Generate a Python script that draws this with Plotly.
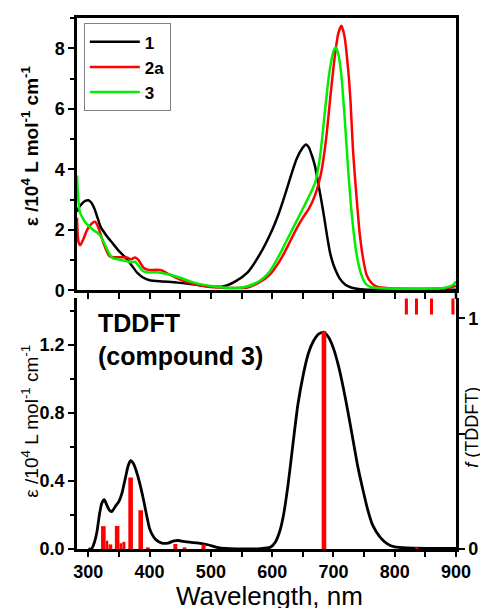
import plotly.graph_objects as go

# ---------------- data ----------------
# Top panel: experimental spectra, epsilon / 10^4 L mol^-1 cm^-1
wl_1 = [281.5, 285, 290, 295, 300, 305, 310, 315, 320, 330, 340, 350, 360, 370, 380, 390, 400, 420, 440,
        460, 480, 500, 520, 540, 560, 580, 600, 610, 620, 630, 640, 650, 655, 660, 665, 670, 675, 680,
        685, 690, 695, 700, 705, 710, 720, 730, 750, 800, 850, 900]
eps_1 = [2.6, 2.75, 2.88, 2.96, 2.98, 2.9, 2.7, 2.4, 2.1, 1.8, 1.55, 1.3, 1.1, 0.85, 0.58, 0.42, 0.34, 0.3, 0.27,
         0.23, 0.18, 0.13, 0.13, 0.3, 0.6, 1.2, 2.0, 2.5, 3.1, 3.75, 4.35, 4.72, 4.82, 4.72, 4.45, 4.1, 3.55, 3.0,
         2.4, 1.75, 1.2, 0.85, 0.6, 0.4, 0.18, 0.09, 0.03, 0.02, 0.02, 0.02]

wl_2a = [281.5, 284, 287, 292, 298, 305, 311, 316, 320, 325, 330, 335, 345, 355, 363, 370, 376, 382, 390,
         398, 410, 420, 433, 450, 470, 490, 510, 540, 560, 580, 595, 610, 620, 630, 640, 650, 660, 670,
         680, 688, 695, 702, 708, 713, 718, 724, 728, 732, 738, 743, 748, 754, 762, 770, 790, 850, 880, 900]
eps_2a = [2.4, 1.6, 1.5, 1.7, 2.0, 2.2, 2.27, 2.1, 1.85, 1.55, 1.3, 1.12, 1.1, 1.1, 1.09, 1.03, 1.09, 1.0, 0.75,
          0.68, 0.68, 0.66, 0.52, 0.36, 0.22, 0.14, 0.1, 0.08, 0.1, 0.28, 0.5, 0.9, 1.25, 1.65, 2.05, 2.4, 2.7, 3.15,
          3.9, 5.0, 6.4, 7.7, 8.5, 8.74, 8.4, 7.3, 6.2, 4.6, 3.0, 1.85, 1.1, 0.52, 0.25, 0.13, 0.07, 0.06, 0.07, 0.15]

wl_3 = [281.5, 283, 286, 292, 297, 308, 315, 320, 325, 330, 335, 340, 350, 360, 370, 376, 382, 388, 395,
        410, 420, 433, 450, 466, 482, 500, 520, 540, 560, 580, 595, 610, 620, 630, 640, 650, 660, 670, 678,
        686, 692, 697, 701, 704, 708, 713, 718, 724, 730, 738, 745, 752, 760, 780, 850, 880, 895, 900]
eps_3 = [3.8, 3.2, 2.6, 2.35, 2.2, 2.0, 1.9, 1.8, 1.6, 1.39, 1.18, 1.07, 1.02, 0.98, 0.93, 0.95, 0.82, 0.66, 0.6,
         0.6, 0.58, 0.52, 0.42, 0.3, 0.21, 0.15, 0.1, 0.08, 0.14, 0.32, 0.6, 1.1, 1.5, 1.9, 2.3, 2.7, 3.1, 3.55, 4.4,
         5.9, 7.0, 7.64, 7.95, 8.03, 7.8, 7.1, 5.8, 4.0, 2.5, 1.17, 0.55, 0.24, 0.12, 0.07, 0.06, 0.08, 0.18, 0.3]

# Bottom panel: TDDFT simulated spectrum of compound 3
wl_calc = [300, 305, 310, 314, 318, 322, 326, 330, 334, 338, 344, 350, 355, 360, 365, 369, 374, 379, 385, 390,
           395, 400, 405, 410, 420, 430, 440, 447, 455, 465, 480, 495, 510, 525, 550, 580, 597, 605, 612, 618,
           626, 634, 642, 651, 659, 667, 676, 684, 692, 700, 708, 716, 724, 732, 740, 748, 756, 764, 776, 788,
           800, 820, 860, 900]
eps_calc = [0, 0.0, 0.04, 0.1, 0.2, 0.27, 0.29, 0.26, 0.23, 0.22, 0.25, 0.28, 0.33, 0.41, 0.49, 0.52, 0.5, 0.45,
            0.37, 0.29, 0.2, 0.12, 0.08, 0.055, 0.035, 0.035, 0.048, 0.05, 0.045, 0.04, 0.035, 0.025, 0.01, 0.003,
            0.0, 0.002, 0.01, 0.04, 0.1, 0.19, 0.38, 0.62, 0.85, 1.03, 1.15, 1.22, 1.265, 1.275, 1.245, 1.18, 1.08,
            0.95, 0.8, 0.64, 0.48, 0.35, 0.23, 0.14, 0.07, 0.03, 0.012, 0.006, 0.004, 0.003]

# Oscillator strengths (right axis)
f_wl = [324.5, 330.5, 336, 347, 353, 358, 369, 385.5, 397, 442, 457, 488, 684.5, 836]
f_val = [0.099, 0.036, 0.02, 0.1, 0.025, 0.031, 0.31, 0.168, 0.007, 0.022, 0.007, 0.02, 0.944, 0.004]
f_width = [7.5, 4, 6, 7.5, 4, 5, 7.5, 7.5, 6, 6.5, 6, 6.5, 7.5, 5]

# Off-scale marks at the top of the TDDFT panel
top_wl = [819, 835.5, 860, 895]
top_base = [1.017, 1.017, 1.017, 1.017]
top_len = [0.1, 0.1, 0.1, 0.1]

# ---------------- figure ----------------
FONT = "Liberation Sans, Arial, sans-serif"
OFF = 8  # page body margin of the html page
W, H = 488 - OFF, 610 - OFF
L, R, T = 77 - OFF, W - (456 - OFF), 15 - OFF
B = H - (549 - OFF)
ph = H - T - B
top_dom = [(549 - 289) / ph, 1.0]
bot_dom = [0.0, (549 - 297) / ph]

fig = go.Figure()
line_w = 2.5
fig.add_trace(go.Scatter(x=wl_1, y=eps_1, mode="lines", name="1", line=dict(color="#000000", width=line_w, shape="spline", smoothing=0.6), xaxis="x", yaxis="y"))
fig.add_trace(go.Scatter(x=wl_2a, y=eps_2a, mode="lines", name="2a", line=dict(color="#ff0000", width=line_w, shape="spline", smoothing=0.6), xaxis="x", yaxis="y"))
fig.add_trace(go.Scatter(x=wl_3, y=eps_3, mode="lines", name="3", line=dict(color="#00ee00", width=line_w, shape="spline", smoothing=0.6), xaxis="x", yaxis="y"))

fig.add_trace(go.Scatter(x=wl_calc, y=eps_calc, mode="lines", showlegend=False, line=dict(color="#000000", width=2.8, shape="spline", smoothing=0.6), xaxis="x2", yaxis="y2"))
fig.add_trace(go.Bar(x=f_wl, y=f_val, width=f_width, marker=dict(color="#ff0000", line=dict(width=0)), showlegend=False, xaxis="x2", yaxis="y3"))
fig.add_trace(go.Bar(x=top_wl, y=top_len, base=top_base, width=[5, 5, 5, 5], marker=dict(color="#ff0000", line=dict(width=0)), showlegend=False, xaxis="x2", yaxis="y3"))

tickfont = dict(family=FONT, size=18, color="black", weight="bold")
axcommon = dict(showline=True, linecolor="black", linewidth=2.5, showgrid=False, zeroline=False,
                ticks="outside", tickcolor="black", tickwidth=2, tickfont=tickfont)

fig.update_layout(
    width=W, height=H,
    margin=dict(l=L, r=R, t=T, b=B),
    paper_bgcolor="white", plot_bgcolor="white",
    barmode="overlay",
    font=dict(family=FONT, color="black"),
    xaxis=dict(axcommon, domain=[0, 1], anchor="y", range=[281.5, 900], showticklabels=False,
               tick0=300, dtick=50, ticklen=6, mirror=True),
    yaxis=dict(axcommon, domain=top_dom, anchor="x", range=[0, 9], tick0=0, dtick=2, ticklen=6, mirror=True,
               minor=dict(dtick=1, tick0=0, ticklen=4, ticks="outside", tickcolor="black", tickwidth=2)),
    xaxis2=dict(axcommon, domain=[0, 1], anchor="y2", range=[281.5, 900], tick0=300, dtick=100, ticklen=5,
                minor=dict(dtick=50, tick0=300, ticklen=5, ticks="outside", tickcolor="black", tickwidth=2)),
    yaxis2=dict(axcommon, domain=bot_dom, anchor="x2", range=[0, 252 / 171], tick0=0, dtick=0.4,
                tickformat=".1f", ticklen=6,
                minor=dict(dtick=0.2, tick0=0, ticklen=4, ticks="outside", tickcolor="black", tickwidth=2)),
    yaxis3=dict(axcommon, overlaying="y2", anchor="x2", side="right", range=[0, 252 / 232],
                tickmode="array", tickvals=[0, 0.5, 1], ticktext=["0", "", "1"], ticklen=6),
    legend=dict(x=0.018, y=0.99, xanchor="left", yanchor="top", bgcolor="white",
                bordercolor="#808080", borderwidth=1,
                font=dict(family=FONT, size=17, color="black", weight="bold"),
                itemwidth=50, tracegroupgap=2),
    showlegend=True,
)

def px_x(x):
    return (x - 77) / 379.0

def px_y(y):
    return (549 - y) / ph

fig.add_annotation(text="ε /10<sup>4</sup> L mol<sup>-1</sup> cm<sup>-1</sup>", textangle=-90,
                   xref="paper", yref="paper", x=px_x(30), y=px_y(144), showarrow=False,
                   xanchor="center", yanchor="middle",
                   font=dict(family=FONT, size=19, color="black", weight="bold"))
fig.add_annotation(text="ε /10<sup>4</sup> L mol<sup>-1</sup> cm<sup>-1</sup>", textangle=-90,
                   xref="paper", yref="paper", x=px_x(30), y=px_y(421), showarrow=False,
                   xanchor="center", yanchor="middle",
                   font=dict(family=FONT, size=19, color="black"))
fig.add_annotation(text="<i>f</i> (TDDFT)", textangle=-90,
                   xref="paper", yref="paper", x=px_x(472), y=px_y(427), showarrow=False,
                   xanchor="center", yanchor="middle",
                   font=dict(family=FONT, size=18, color="black"))
fig.add_annotation(text="Wavelength, nm",
                   xref="paper", yref="paper", x=px_x(269), y=px_y(596), showarrow=False,
                   xanchor="center", yanchor="middle", height=24, valign="middle",
                   font=dict(family=FONT, size=26, color="black"))
fig.add_annotation(text="TDDFT<br>(compound 3)", align="left",
                   xref="paper", yref="paper", x=px_x(96), y=px_y(306), showarrow=False,
                   xanchor="left", yanchor="top",
                   font=dict(family=FONT, size=25, color="black", weight="bold"))

# join the right frame line across the small gap between the panels
fig.add_shape(type="line", xref="paper", yref="paper", x0=1, x1=1, y0=bot_dom[1], y1=top_dom[0],
              line=dict(color="black", width=2.5))

fig.write_html("out.html")
